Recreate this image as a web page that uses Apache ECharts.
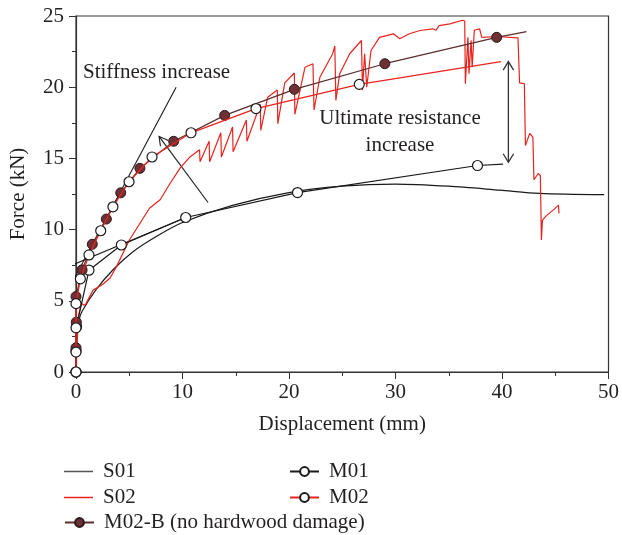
<!DOCTYPE html>
<html><head><meta charset="utf-8">
<script src="https://cdn.jsdelivr.net/npm/echarts@6/dist/echarts.min.js"></script>
<style>html,body{margin:0;padding:0;background:#fff}#c{width:622px;height:535px}</style>
</head><body><div id="c"></div>
<script>
// ---- data (displacement mm, force kN) ----
const xTicks = [0, 10, 20, 30, 40, 50];
const yTicks = [0, 5, 10, 15, 20, 25];

const S01 = [[0,0],[0.1,2.5],[0.3,3.7],[0.6,4.3],[1.9,5.8],[3.5,7.2],[5.35,8.45],[7.5,9.5],[10,10.5],[14.7,11.7],[20,12.6],[25,13.05],[30,13.2],[35,13.05],[39.8,12.77],[43.5,12.54],[49.6,12.45]];

const S02 = [[0,0],[0.1,2],[0.25,4.0],[0.5,4.85],[0.7,4.7],[0.9,4.75],[1.6,5.75],[2.5,6.15],[3.2,6.6],[3.8,7.4],[5.0,9.25],[6.9,11.5],[7.9,12.1],[8.8,13.2],[9.75,14.3],[10.7,15.1],[11.6,15.6],[11.65,14.76],[12.5,16.2],[12.55,14.76],[13.6,16.8],[13.65,15.1],[14.7,17.2],[14.75,15.46],[16.0,17.7],[16.05,16.2],[17.3,18.8],[17.35,16.97],[18.0,19.3],[18.9,19.8],[18.95,17.44],[19.6,20.3],[20.5,21.0],[20.55,18.1],[21.5,21.4],[22.25,21.65],[22.35,18.4],[22.9,20.7],[24.1,22.35],[24.3,22.9],[24.4,19.08],[24.76,20.95],[25.7,22.35],[26.8,23.28],[26.9,19.78],[27.1,22.35],[27.3,20.0],[27.7,22.58],[28.5,23.5],[29.8,23.75],[30.4,23.4],[31.3,23.75],[32.3,23.98],[33.5,24.1],[33.8,24.0],[34.1,24.33],[35.1,24.45],[36.3,24.7],[36.5,24.65],[36.56,20.25],[36.8,23.5],[36.9,20.95],[37.1,23.3],[37.2,21.4],[37.4,24.0],[37.9,24.1],[38.1,23.5],[39.5,23.56],[41.5,23.47],[41.65,20.3],[42.1,20.25],[42.2,15.9],[42.6,16.75],[42.9,16.5],[43.0,13.5],[43.4,13.94],[43.6,13.8],[43.7,9.27],[43.8,10.67],[44.2,11.0],[44.8,11.37],[45.3,11.72],[45.35,11.14]];

const M01 = [[0,0],[0,1.5],[0.05,3.2],[1.22,7.15],[4.26,8.92],[10.3,10.85],[20.8,12.6],[37.7,14.5]];
const M01end = [40.1,14.6];

const M02 = [[0,0],[0,1.4],[0,3.1],[0,4.8],[0.41,6.54],[1.22,8.22],[2.32,9.92],[3.47,11.6],[4.98,13.36],[7.14,15.1],[10.8,16.8],[16.9,18.5],[26.6,20.2]];
const M02end = [39.9,21.8];

const M02B = [[0,0],[0,1.7],[0.03,3.5],[0,5.3],[0.57,7.17],[1.53,8.97],[2.85,10.74],[4.2,12.58],[6.0,14.3],[9.17,16.2],[13.96,18.02],[20.5,19.85],[29.0,21.65],[39.5,23.5]];
const M02Bend = [42.3,23.9];

// annotation guide lines (data coords)
const tangentSteep = [[-1.06,5.3],[9.4,20]];
const tangentShallow = [[-3.6,6.5],[10.3,10.85]];
const stiffArrow = [[12.4,11.9],[7.8,16.55]];
const ultArrow = [[40.6,14.73],[40.6,21.8]];

const FONT = 'Liberation Serif';
const FS = 21;
const TXT = '#231f20';
const RED = '#e8231e';
const DARK = '#1a1a1a';
const MAROON = '#5b2d2d';
const MFILL = '#6e2f35';

function withEnd(arr, end){
  return arr.map(p=>({value:p})).concat([{value:end, symbol:'none'}]);
}
function leg(name, left, top, icon, ih){
  return {left:left, top:top, orient:'horizontal', padding:0, itemWidth:29, itemHeight:ih, itemGap:0,
    textStyle:{fontFamily:FONT,fontSize:FS,color:TXT,padding:[0,0,0,5]},
    data:[icon ? {name:name, icon:icon} : {name:name}]};
}

const chart = echarts.init(document.getElementById('c'), null, {renderer:'canvas'});
const option = {
  animation:false,
  backgroundColor:'#fff',
  grid:{left:76,right:13,top:16,bottom:163,show:true,borderColor:'#333',borderWidth:1.2,backgroundColor:'transparent'},
  xAxis:{type:'value',min:0,max:50,interval:10,
    name:'Displacement (mm)',nameLocation:'middle',nameGap:42,
    nameTextStyle:{fontFamily:FONT,fontSize:FS,color:TXT},
    axisLine:{lineStyle:{color:'#333',width:1.2}},
    axisTick:{show:true,inside:false,length:7,lineStyle:{color:'#333'}},
    minorTick:{show:true,splitNumber:2,length:4,lineStyle:{color:'#333'}},
    splitLine:{show:false},
    axisLabel:{fontFamily:FONT,fontSize:FS,color:TXT,margin:10}},
  yAxis:{type:'value',min:0,max:25,interval:5,
    name:'Force (kN)',nameLocation:'middle',nameGap:47,
    nameTextStyle:{fontFamily:FONT,fontSize:FS,color:TXT},
    axisLine:{lineStyle:{color:'#333',width:1.2}},
    axisTick:{show:true,inside:false,length:7,lineStyle:{color:'#333'}},
    minorTick:{show:true,splitNumber:2,length:4,lineStyle:{color:'#333'}},
    splitLine:{show:false},
    axisLabel:{fontFamily:FONT,fontSize:FS,color:TXT,margin:12}},
  legend:[
    leg('S01',64,461,'rect',1.5),
    leg('S02',64,487,'rect',1.5),
    leg('M02-B (no hardwood damage)',64,512,null,11),
    leg('M01',289,461,null,11),
    leg('M02',289,487,null,11)
  ],
  series:[
    {name:'tanSteep',type:'line',data:tangentSteep,symbol:'none',clip:false,silent:true,
     lineStyle:{color:DARK,width:1.1},z:1},
    {name:'tanShallow',type:'line',data:tangentShallow,symbol:'none',clip:false,silent:true,
     lineStyle:{color:DARK,width:1.1},z:1},
    {name:'S01',type:'line',data:S01,symbol:'none',smooth:0.3,
     lineStyle:{color:DARK,width:1.2},itemStyle:{color:'#555'},z:2},
    {name:'S02',type:'line',data:S02,symbol:'none',
     lineStyle:{color:RED,width:1.2},itemStyle:{color:RED},z:2},
    {name:'M01',type:'line',data:withEnd(M01,M01end),symbol:'circle',symbolSize:10,showAllSymbol:true,
     lineStyle:{color:DARK,width:1.2},itemStyle:{color:'#fff',borderColor:DARK,borderWidth:1.2},z:3},
    {name:'M02-B (no hardwood damage)',type:'line',data:withEnd(M02B,M02Bend),symbol:'circle',symbolSize:10,showAllSymbol:true,
     lineStyle:{color:MAROON,width:1.2},itemStyle:{color:MFILL,borderColor:'#2a1a1a',borderWidth:1},z:4},
    {name:'M02',type:'line',data:withEnd(M02,M02end),symbol:'circle',symbolSize:10,showAllSymbol:true,
     lineStyle:{color:RED,width:1.3},itemStyle:{color:'#fff',borderColor:DARK,borderWidth:1.2},z:5}
  ]
};
chart.setOption(option);

// annotations: arrows and texts placed through the axes' own conversion
function px(p){ return chart.convertToPixel({gridIndex:0}, p); }
function chevron(tip, from, len, ang){
  const dx = from[0]-tip[0], dy = from[1]-tip[1];
  const L = Math.hypot(dx,dy), ux = dx/L, uy = dy/L;
  const rot = (a)=>[ux*Math.cos(a)-uy*Math.sin(a), ux*Math.sin(a)+uy*Math.cos(a)];
  const a1 = rot(ang), a2 = rot(-ang);
  return [[tip[0]+a1[0]*len, tip[1]+a1[1]*len], tip, [tip[0]+a2[0]*len, tip[1]+a2[1]*len]];
}
const g = [];
const sA = stiffArrow.map(px);
g.push({type:'polyline',shape:{points:sA},style:{stroke:DARK,lineWidth:1.1,fill:null}});
g.push({type:'polyline',shape:{points:chevron(sA[1],sA[0],10,0.5)},style:{stroke:DARK,lineWidth:1.1,fill:null}});
const uA = ultArrow.map(px);
g.push({type:'polyline',shape:{points:uA},style:{stroke:'#333',lineWidth:1.3,fill:null}});
g.push({type:'polyline',shape:{points:chevron(uA[1],uA[0],10,0.55)},style:{stroke:'#333',lineWidth:1.3,fill:null}});
g.push({type:'polyline',shape:{points:chevron(uA[0],uA[1],10,0.55)},style:{stroke:'#333',lineWidth:1.3,fill:null}});
const font = FS+'px "'+FONT+'"';
g.push({type:'text',x:83,y:72,style:{text:'Stiffness increase',font:font,fill:TXT,verticalAlign:'middle'}});
g.push({type:'text',x:400,y:118,style:{text:'Ultimate resistance',font:font,fill:TXT,align:'center',verticalAlign:'middle'}});
g.push({type:'text',x:400,y:145,style:{text:'increase',font:font,fill:TXT,align:'center',verticalAlign:'middle'}});
chart.setOption({graphic:g});
</script></body></html>
